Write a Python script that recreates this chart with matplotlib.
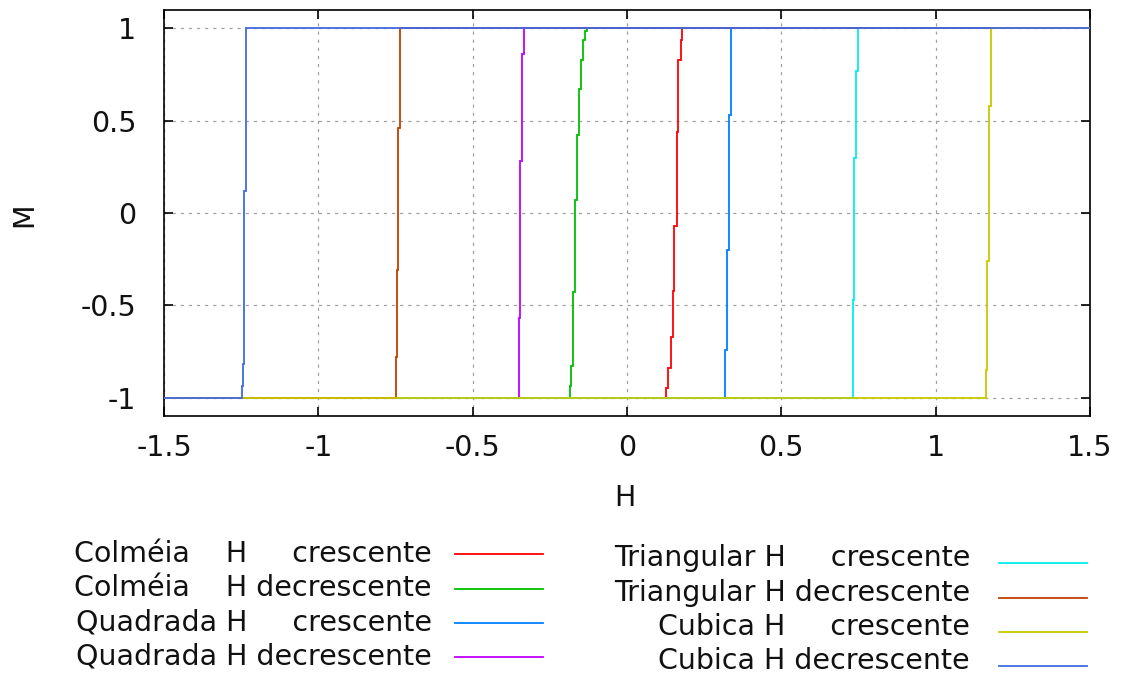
import matplotlib
matplotlib.use("Agg")
import matplotlib.pyplot as plt
from matplotlib.lines import Line2D

# H position of each near-vertical segment (bottom -> top) and the M levels where it shifts
colmeia_cresc_h = [0.126, 0.134, 0.141, 0.148, 0.153, 0.161, 0.166, 0.174, 0.179]
colmeia_cresc_m = [-0.95, -0.84, -0.67, -0.42, -0.07, 0.44, 0.83, 0.94]
colmeia_decr_h = [-0.185, -0.180, -0.174, -0.169, -0.163, -0.156, -0.149, -0.142, -0.136, -0.129]
colmeia_decr_m = [-0.94, -0.83, -0.43, 0.07, 0.42, 0.67, 0.83, 0.94, 0.985]
quadrada_cresc_h = [0.319, 0.324, 0.329, 0.337]
quadrada_cresc_m = [-0.74, -0.20, 0.53]
quadrada_decr_h = [-0.350, -0.347, -0.341, -0.334]
quadrada_decr_m = [-0.57, 0.28, 0.86]
triangular_cresc_h = [0.731, 0.736, 0.742, 0.749]
triangular_cresc_m = [-0.47, 0.30, 0.77]
triangular_decr_h = [-0.750, -0.745, -0.741, -0.735]
triangular_decr_m = [-0.78, -0.31, 0.46]
cubica_cresc_h = [1.162, 1.167, 1.172, 1.179]
cubica_cresc_m = [-0.85, -0.26, 0.58]
cubica_decr_h = [-1.248, -1.245, -1.240, -1.234]
cubica_decr_m = [-0.94, -0.82, 0.12]

labels = [
    "Colméia    H     crescente",
    "Colméia    H decrescente",
    "Quadrada H     crescente",
    "Quadrada H decrescente",
    "Triangular H     crescente",
    "Triangular H decrescente",
    "Cubica H     crescente",
    "Cubica H decrescente",
]
colors = ["#ff0000", "#00c000", "#0080ff", "#c000ff",
          "#00eeee", "#c04000", "#c8c800", "#4169e1"]
series = [
    (colmeia_cresc_h, colmeia_cresc_m),
    (colmeia_decr_h, colmeia_decr_m),
    (quadrada_cresc_h, quadrada_cresc_m),
    (quadrada_decr_h, quadrada_decr_m),
    (triangular_cresc_h, triangular_cresc_m),
    (triangular_decr_h, triangular_decr_m),
    (cubica_cresc_h, cubica_cresc_m),
    (cubica_decr_h, cubica_decr_m),
]
xticks = [-1.5, -1, -0.5, 0, 0.5, 1, 1.5]
yticks = [-1, -0.5, 0, 0.5, 1]


def loop_path(hs, ms):
    """Flat at -1 from H=-1.5, staircase up through the switch, flat at 1 to H=1.5."""
    levels = [-1] + ms + [1]
    x, y = [-1.5], [-1]
    for i, h in enumerate(hs):
        x += [h, h]
        y += [levels[i], levels[i + 1]]
    x.append(1.5)
    y.append(1)
    return x, y


def fmt(v):
    return f"{v:g}"


plt.rcParams["font.family"] = "DejaVu Sans"
FS = 20.5

fig = plt.figure(figsize=(11.21, 6.77), dpi=100)
ax = fig.add_axes([164 / 1121, 1 - 416 / 677, (1090 - 164) / 1121, (416 - 10) / 677])

for (hs, ms), c in zip(series, colors):
    x, y = loop_path(hs, ms)
    ax.plot(x, y, color=c, lw=1.3, solid_joinstyle="miter", zorder=3)

ax.set_xlim(-1.5, 1.5)
ax.set_ylim(-1.1, 1.1)
ax.set_xticks(xticks)
ax.set_xticklabels([fmt(v) for v in xticks])
ax.set_yticks(yticks)
ax.set_yticklabels([fmt(v) for v in yticks])
ax.tick_params(direction="in", length=6.5, width=1.2, top=True, right=True,
               labelsize=FS, colors="black", labelcolor="#111111")
ax.tick_params(axis="x", pad=13)
ax.tick_params(axis="y", pad=20)
ax.grid(True, color="#a0a0a0", lw=0.9, linestyle=(0, (2.5, 4)), zorder=1)
for s in ax.spines.values():
    s.set_linewidth(1.2)

fig.text(625 / 1121, 1 - 498 / 677, "H", fontsize=FS, ha="center", va="center",
         color="#111111")
fig.text(24 / 1121, 1 - 215 / 677, "M", fontsize=FS, ha="center", va="center",
         rotation=90, color="#111111")

# key, two columns with text right-aligned and the sample line after it
cols = [
    dict(text_right=432, x0=455, x1=543, lines=[554, 589, 623, 657],
         base=[562, 596, 630, 664]),
    dict(text_right=970, x0=999, x1=1087, lines=[563, 598, 632, 666],
         base=[566, 601, 635, 669]),
]
W, H = 1121, 677
for i, (lab, c) in enumerate(zip(labels, colors)):
    col = cols[i // 4]
    ly = col["lines"][i % 4]
    by = col["base"][i % 4]
    fig.text(col["text_right"] / W, 1 - by / H, lab, fontsize=FS,
             ha="right", va="baseline", color="#111111")
    fig.add_artist(Line2D([col["x0"] / W, col["x1"] / W], [1 - ly / H, 1 - ly / H],
                          transform=fig.transFigure, color=c, lw=1.3))

fig.savefig("out.png", dpi=100)
